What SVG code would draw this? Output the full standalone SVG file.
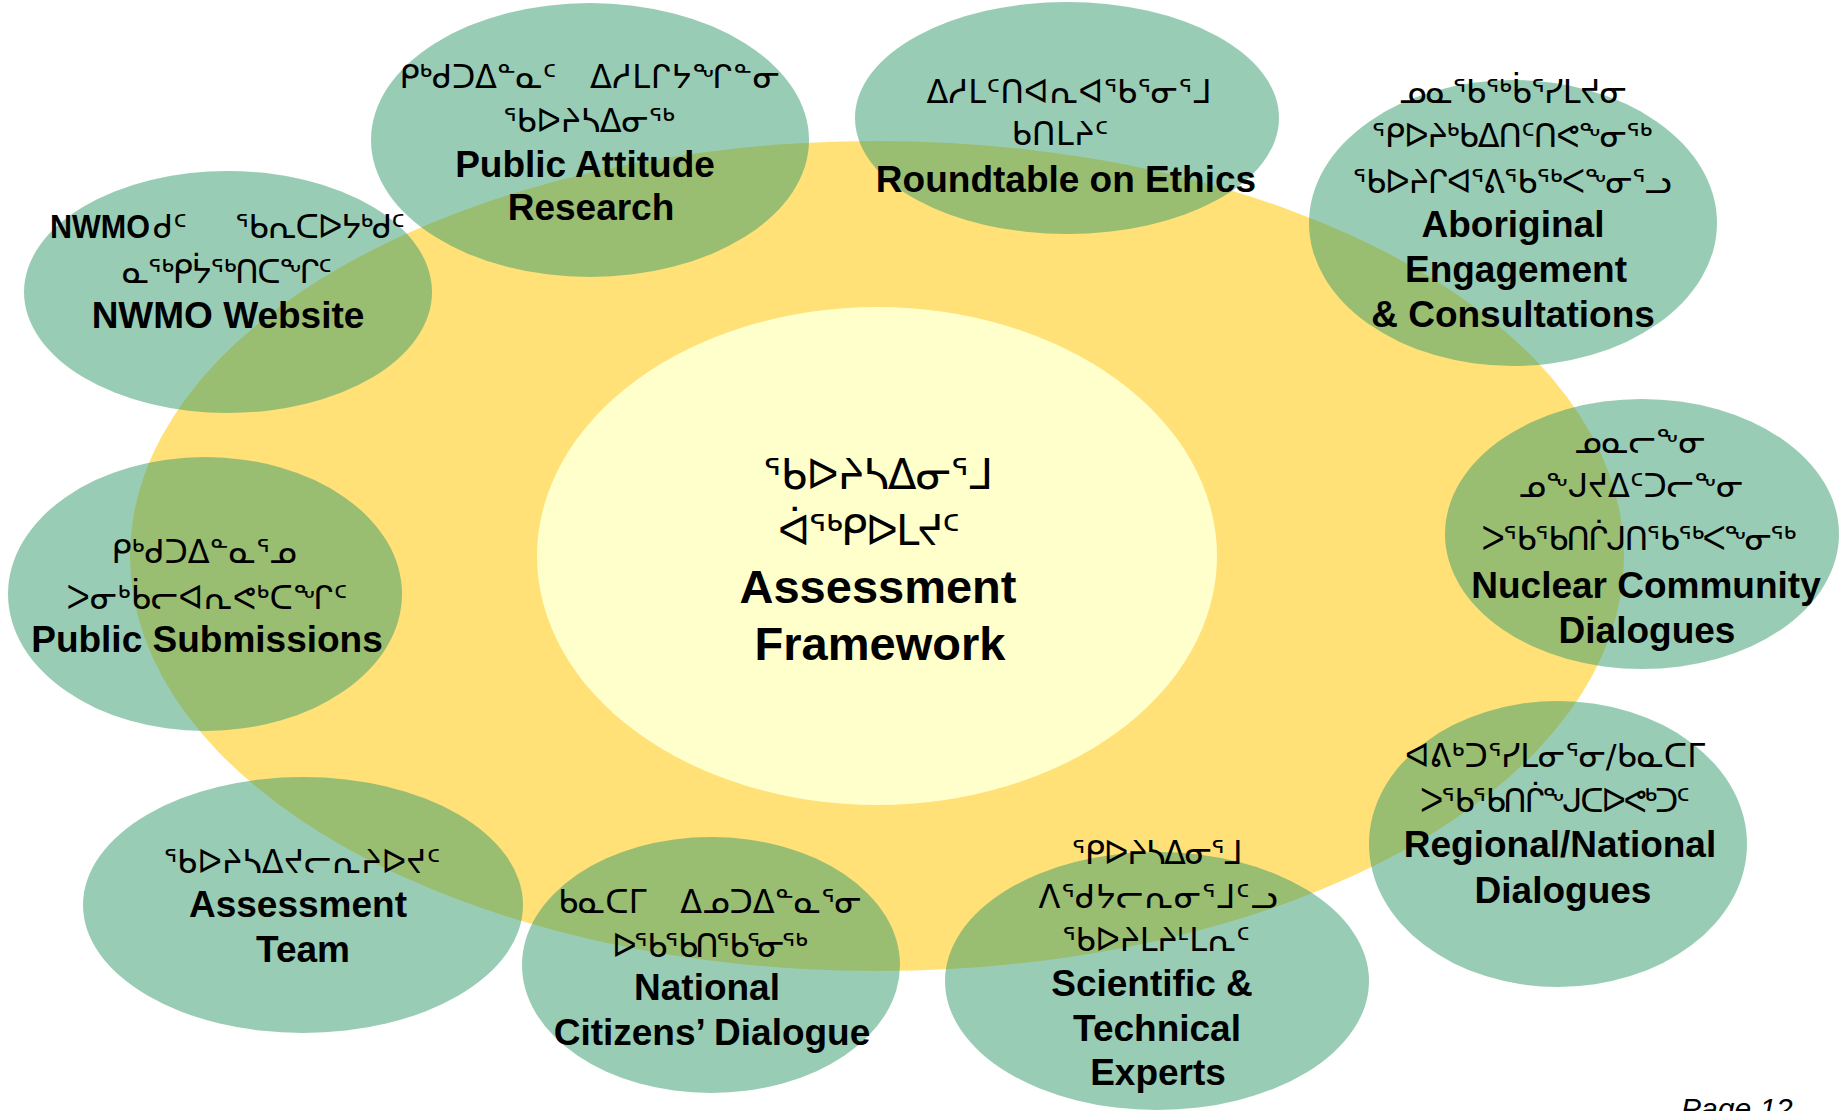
<svg xmlns="http://www.w3.org/2000/svg" width="1839" height="1111" viewBox="0 0 1839 1111">
<style>
.bg{fill:#FFFFFF}
.outer{fill:#FFE178}
.inner{fill:#FFFFCC}
.node{fill:#339969;fill-opacity:0.5}
.en{font-family:"Liberation Sans",Arial,sans-serif;font-weight:bold;font-size:37px;fill:#000;text-anchor:middle}
.cen{font-family:"Liberation Sans",Arial,sans-serif;font-weight:bold;font-size:47px;fill:#000;text-anchor:middle}
.sy{font-family:"DejaVu Sans",sans-serif;font-size:32px;fill:#000;text-anchor:middle}
.syc{font-family:"DejaVu Sans",sans-serif;font-size:42px;fill:#000;text-anchor:middle}
.page{font-family:"Liberation Sans",Arial,sans-serif;font-style:italic;font-size:30px;fill:#000}
</style>
<rect class="bg" x="0" y="0" width="1839" height="1111"/>
<g id="framework-ring">
<ellipse class="outer" cx="877" cy="556" rx="747" ry="415"/>
</g>
<g id="assessment-framework">
<ellipse class="inner" cx="877" cy="556" rx="340" ry="249"/>
<text class="syc" x="878" y="489" textLength="230">ᖃᐅᔨᓴᐃᓂᕐᒧ</text>
<text class="syc" x="869" y="545" textLength="182">ᐋᖅᑭᐅᒪᔪᑦ</text>
<text class="cen" x="878" y="603">Assessment</text>
<text class="cen" x="880" y="660">Framework</text>
</g>
<g id="connectors"></g>
<g id="public-attitude-research">
<ellipse class="node" cx="590" cy="140" rx="219" ry="137"/>
<text class="sy" x="478" y="88" textLength="157">ᑭᒃᑯᑐᐃᓐᓇᑦ</text>
<text class="sy" x="685" y="88" textLength="190">ᐃᓱᒪᒋᔭᖏᓐᓂ</text>
<text class="sy" x="589" y="132" textLength="172">ᖃᐅᔨᓴᐃᓂᖅ</text>
<text class="en" x="585" y="177">Public Attitude</text>
<text class="en" x="591" y="220">Research</text>
</g>
<g id="roundtable-on-ethics">
<ellipse class="node" cx="1067" cy="118" rx="212" ry="116"/>
<text class="sy" x="1069" y="103" textLength="285">ᐃᓱᒪᑦᑎᐊᕆᐊᖃᕐᓂᕐᒧ</text>
<text class="sy" x="1060" y="145" textLength="97">ᑲᑎᒪᔨᑦ</text>
<text class="en" x="1066" y="192">Roundtable on Ethics</text>
</g>
<g id="aboriginal-engagement">
<ellipse class="node" cx="1513" cy="223" rx="204" ry="143"/>
<text class="sy" x="1513" y="103" textLength="228">ᓄᓇᖃᖅᑳᕐᓯᒪᔪᓂ</text>
<text class="sy" x="1512" y="147" textLength="281">ᕿᐅᔨᒃᑲᐃᑎᑦᑎᕙᖕᓂᖅ</text>
<text class="sy" x="1512" y="193" textLength="319">ᖃᐅᔨᒋᐊᕐᕕᖃᖅᐸᖕᓂᕐᓗ</text>
<text class="en" x="1513" y="237">Aboriginal</text>
<text class="en" x="1516" y="282">Engagement</text>
<text class="en" x="1513" y="327">&amp; Consultations</text>
</g>
<g id="nwmo-website">
<ellipse class="node" cx="228" cy="292" rx="204" ry="121"/>
<text class="en" x="50" y="238" style="text-anchor:start;font-size:33px" textLength="100" lengthAdjust="spacingAndGlyphs">NWMO</text>
<text class="sy" x="153" y="238" style="text-anchor:start">ᑯᑦ</text>
<text class="sy" x="320" y="238" textLength="170">ᖃᕆᑕᐅᔭᒃᑯᑦ</text>
<text class="sy" x="227" y="283" textLength="210">ᓇᖅᑭᔮᖅᑎᑕᖏᑦ</text>
<text class="en" x="228" y="328">NWMO Website</text>
</g>
<g id="nuclear-community-dialogues">
<ellipse class="node" cx="1642" cy="534" rx="197" ry="135"/>
<text class="sy" x="1640" y="453">ᓄᓇᓕᖕᓂ</text>
<text class="sy" x="1631" y="497" textLength="225">ᓄᖕᒍᔪᐃᑦᑐᓕᖕᓂ</text>
<text class="sy" x="1639" y="550" textLength="315">ᐳᖃᖃᑎᒌᒍᑎᖃᖅᐸᖕᓂᖅ</text>
<text class="en" x="1646" y="598">Nuclear Community</text>
<text class="en" x="1647" y="643">Dialogues</text>
</g>
<g id="public-submissions">
<ellipse class="node" cx="205" cy="594" rx="197" ry="137"/>
<text class="sy" x="204" y="563" textLength="185">ᑭᒃᑯᑐᐃᓐᓇᕐᓄ</text>
<text class="sy" x="207" y="609" textLength="281">ᐳᓂᒃᑳᓕᐊᕆᕙᒃᑕᖏᑦ</text>
<text class="en" x="207" y="652">Public Submissions</text>
</g>
<g id="assessment-team">
<ellipse class="node" cx="303" cy="905" rx="220" ry="128"/>
<text class="sy" x="302" y="873" textLength="277">ᖃᐅᔨᓴᐃᔪᓕᕆᔨᐅᔪᑦ</text>
<text class="en" x="298" y="917">Assessment</text>
<text class="en" x="303" y="962">Team</text>
</g>
<g id="national-citizens-dialogue">
<ellipse class="node" cx="711" cy="965" rx="189" ry="128"/>
<text class="sy" x="558" y="913" style="text-anchor:start">ᑲᓇᑕᒥ</text>
<text class="sy" x="771" y="913">ᐃᓄᑐᐃᓐᓇᕐᓂ</text>
<text class="sy" x="710" y="957" textLength="196">ᐅᖃᖃᑎᖃᕐᓂᖅ</text>
<text class="en" x="707" y="1000">National</text>
<text class="en" x="712" y="1045">Citizens’ Dialogue</text>
</g>
<g id="scientific-technical-experts">
<ellipse class="node" cx="1157" cy="981" rx="212" ry="129"/>
<text class="sy" x="1157" y="864" textLength="171">ᕿᐅᔨᓴᐃᓂᕐᒧ</text>
<text class="sy" x="1158" y="908" textLength="239">ᐱᕐᑯᔭᓕᕆᓂᕐᒧᑦᓗ</text>
<text class="sy" x="1156" y="951" textLength="188">ᖃᐅᔨᒪᔨᒻᒪᕆᑦ</text>
<text class="en" x="1152" y="996">Scientific &amp;</text>
<text class="en" x="1157" y="1041">Technical</text>
<text class="en" x="1158" y="1085">Experts</text>
</g>
<g id="regional-national-dialogues">
<ellipse class="node" cx="1558" cy="844" rx="189" ry="143"/>
<text class="sy" x="1555" y="767" textLength="300">ᐊᕕᒃᑐᕐᓯᒪᓂᕐᓂ/ᑲᓇᑕᒥ</text>
<text class="sy" x="1555" y="812" textLength="270">ᐳᖃᖃᑎᒌᖕᒍᑕᐅᕙᒃᑐᑦ</text>
<text class="en" x="1560" y="857">Regional/National</text>
<text class="en" x="1563" y="903">Dialogues</text>
</g>
<text class="page" x="1681" y="1119">Page 12</text>
</svg>
